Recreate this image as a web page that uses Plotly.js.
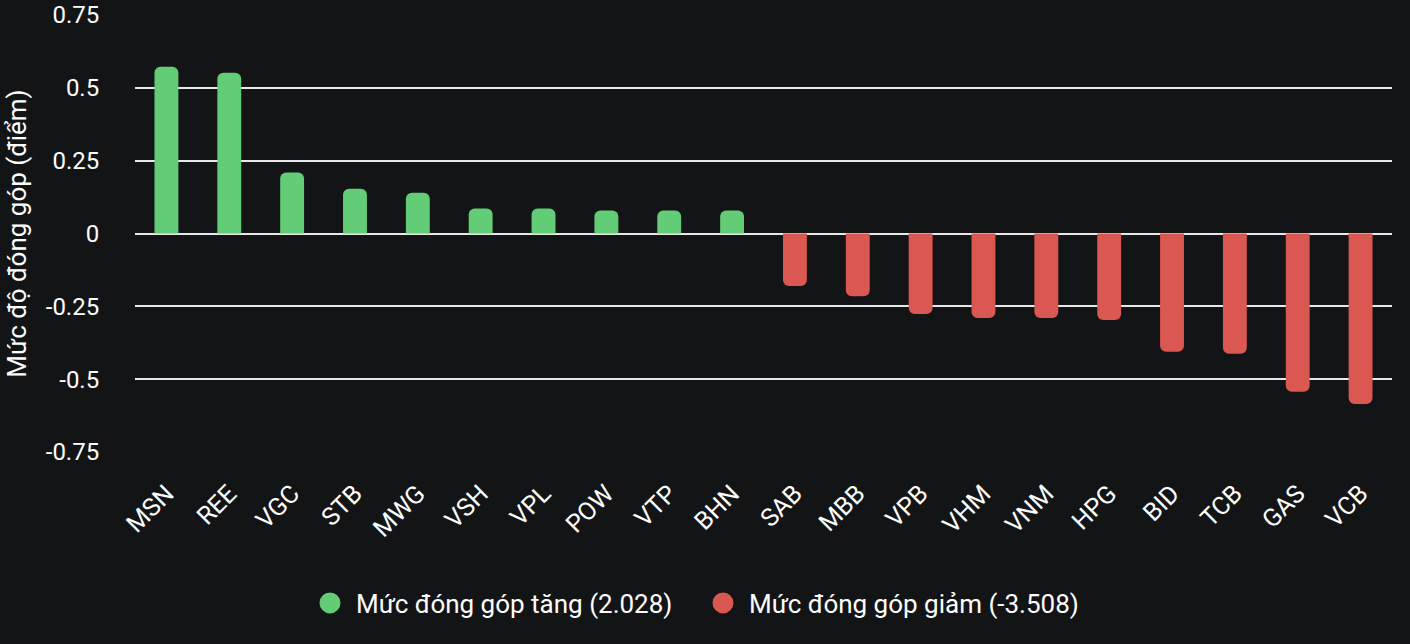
<!DOCTYPE html>
<html>
<head>
<meta charset="utf-8">
<script src="https://cdn.plot.ly/plotly-3.0.1.min.js"></script>
<style>
  html, body { margin: 0; padding: 0; background: #131416; }
  #chart { width: 1410px; height: 644px; }
</style>
</head>
<body>
<div id="chart"></div>
<script>
var tickersUp = ['MSN', 'REE', 'VGC', 'STB', 'MWG', 'VSH', 'VPL', 'POW', 'VTP', 'BHN'];
var valuesUp = [0.572, 0.552, 0.209, 0.154, 0.140, 0.086, 0.086, 0.079, 0.079, 0.079];
var tickersDown = ['SAB', 'MBB', 'VPB', 'VHM', 'VNM', 'HPG', 'BID', 'TCB', 'GAS', 'VCB'];
var valuesDown = [-0.180, -0.215, -0.276, -0.290, -0.290, -0.297, -0.406, -0.413, -0.543, -0.585];
var legendUp = 'Mức đóng góp tăng (2.028)';
var legendDown = 'Mức đóng góp giảm (-3.508)';
var yTickVals = [0.75, 0.5, 0.25, 0, -0.25, -0.5, -0.75];
var yTickText = ['0.75', '0.5', '0.25', '0', '-0.25', '-0.5', '-0.75'];

var green = '#63cc77';
var red = '#da5752';
var bg = '#131416';

var traces = [
    {
        x: tickersUp,
        y: valuesUp,
        type: 'bar',
        width: 0.38,
        marker: { color: green, cornerradius: 6 },
        showlegend: false,
        hoverinfo: 'x+y'
    },
    {
        x: tickersDown,
        y: valuesDown,
        type: 'bar',
        width: 0.38,
        marker: { color: red, cornerradius: 6 },
        showlegend: false,
        hoverinfo: 'x+y'
    },
    // legend entries with round markers
    {
        x: [null],
        y: [null],
        type: 'scatter',
        mode: 'markers',
        name: legendUp,
        marker: { color: green, size: 16, symbol: 'circle', line: { color: green, width: 5 } }
    },
    {
        x: [null],
        y: [null],
        type: 'scatter',
        mode: 'markers',
        name: legendDown,
        marker: { color: red, size: 16, symbol: 'circle', line: { color: red, width: 5 } }
    }
];

var layout = {
    width: 1410,
    height: 644,
    paper_bgcolor: bg,
    plot_bgcolor: bg,
    barmode: 'overlay',
    font: { family: 'Roboto, Arial, sans-serif', color: '#ffffff', size: 25 },
    margin: { l: 135, r: 18, t: 15, b: 192, pad: 0 },
    xaxis: {
        type: 'category',
        categoryorder: 'array',
        categoryarray: tickersUp.concat(tickersDown),
        tickangle: -45,
        ticks: 'outside',
        ticklen: 16,
        tickcolor: bg,
        showgrid: false,
        zeroline: false,
        showline: false,
        tickfont: { size: 25 }
    },
    yaxis: {
        range: [-0.75, 0.75],
        tickvals: yTickVals,
        ticktext: yTickText,
        ticks: 'outside',
        ticklen: 30,
        tickcolor: bg,
        gridcolor: '#e8e8e8',
        gridwidth: 2,
        zeroline: true,
        zerolinecolor: '#e8e8e8',
        zerolinewidth: 2,
        showline: false,
        tickfont: { size: 24 },
        title: { text: 'Mức độ đóng góp (điểm)', font: { size: 26 }, standoff: 11 }
    },
    legend: {
        orientation: 'h',
        xref: 'container',
        yref: 'container',
        x: 0.2156,
        xanchor: 'left',
        y: 0.0637,
        yanchor: 'middle',
        itemwidth: 42,
        entrywidth: 336,
        entrywidthmode: 'pixels',
        font: { size: 26 },
        bgcolor: 'rgba(0,0,0,0)'
    }
};

Plotly.newPlot('chart', traces, layout, { displayModeBar: false, staticPlot: true });
</script>
</body>
</html>
